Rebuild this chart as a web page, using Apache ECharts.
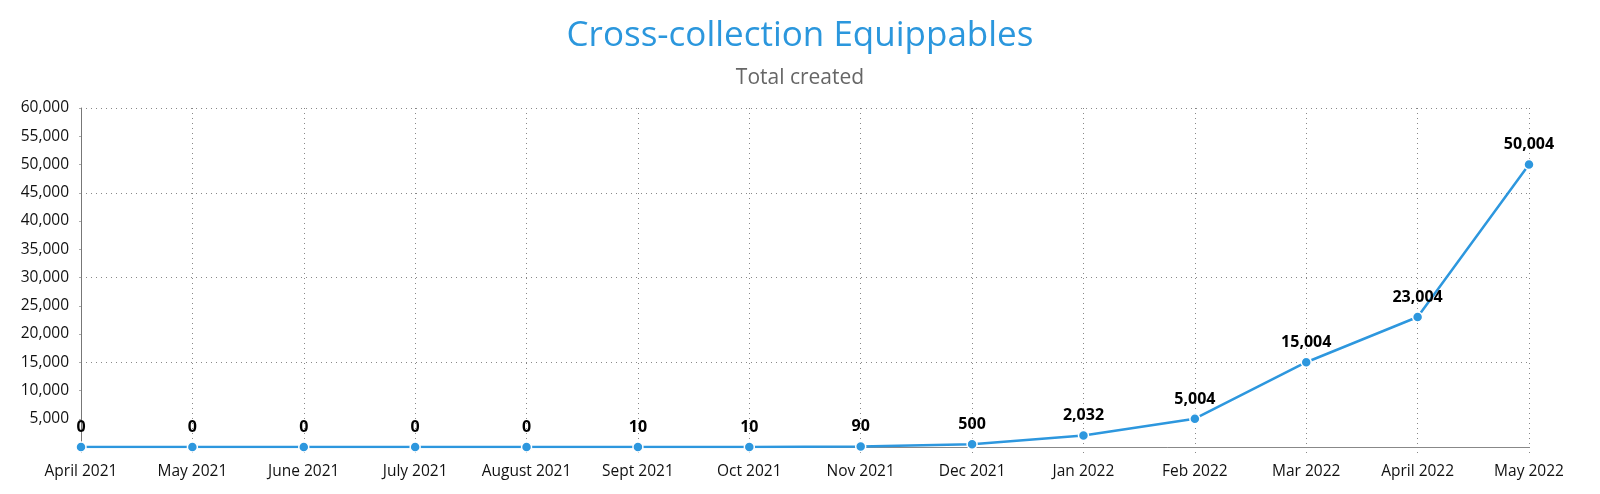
<!DOCTYPE html>
<html><head><meta charset="utf-8">
<script src="https://cdn.jsdelivr.net/npm/echarts@6/dist/echarts.min.js"></script>
<style>html,body{margin:0;padding:0;background:#fff}#c{width:1600px;height:494px}</style>
</head><body><div id="c"></div>
<script>
const categories = ['April 2021','May 2021','June 2021','July 2021','August 2021','Sept 2021','Oct 2021','Nov 2021','Dec 2021','Jan 2022','Feb 2022','Mar 2022','April 2022','May 2022'];
const totalCreated = [0,0,0,0,0,10,10,90,500,2032,5004,15004,23004,50004];
const yMin = 0, yMax = 60000, yLabelStep = 5000, yGridStep = 15000;
const titleText = 'Cross-collection Equippables';
const subtitleText = 'Total created';

const font = '"Open Sans", "Noto Sans", sans-serif';
const fmt = v => v.toLocaleString('en-US');
const dots = {color:'#888', type:[1,4], width:1};
const chart = echarts.init(document.getElementById('c'), null, {renderer:'canvas'});
chart.setOption({
  animation:false,
  title:{
    text:titleText, subtext:subtitleText, left:'center', top:14, itemGap:14,
    textStyle:{fontFamily:font, fontSize:35, fontWeight:'normal', color:'#2b97dd'},
    subtextStyle:{fontFamily:font, fontSize:21, color:'#666'}
  },
  grid:{left:81, right:71, top:108, bottom:47},
  xAxis:{
    type:'category', data:categories, boundaryGap:false,
    axisLine:{lineStyle:{color:'#888', width:1}},
    axisTick:{show:true, length:7, lineStyle:dots},
    axisLabel:{fontFamily:font, fontSize:15.5, color:'#111', margin:17, interval:0},
    splitLine:{show:true, lineStyle:dots}
  },
  yAxis:[{
    type:'value', min:yMin, max:yMax, interval:yLabelStep,
    axisLine:{show:true, lineStyle:{color:'#777', width:1}},
    axisTick:{show:true, length:2, lineStyle:{color:'#aaa'}},
    axisLabel:{fontFamily:font, fontSize:15.5, color:'#111', margin:12,
      formatter:v => v === 0 ? '' : fmt(v)},
    splitLine:{show:false}
  },{
    type:'value', min:yMin, max:yMax, interval:yGridStep, position:'left',
    axisLine:{show:false}, axisTick:{show:false}, axisLabel:{show:false},
    splitLine:{show:true, lineStyle:dots}
  }],
  series:[{
    type:'line', data:totalCreated, yAxisIndex:0,
    lineStyle:{color:'#2d97de', width:2.5},
    itemStyle:{color:'#2d97de', borderColor:'#fff', borderWidth:1.5},
    symbol:'circle', symbolSize:10, showAllSymbol:true,
    label:{show:true, position:'top', distance:6, fontFamily:font, fontSize:16, fontWeight:'bold', color:'#000',
      formatter:p => fmt(p.value)}
  }]
});
</script></body></html>
